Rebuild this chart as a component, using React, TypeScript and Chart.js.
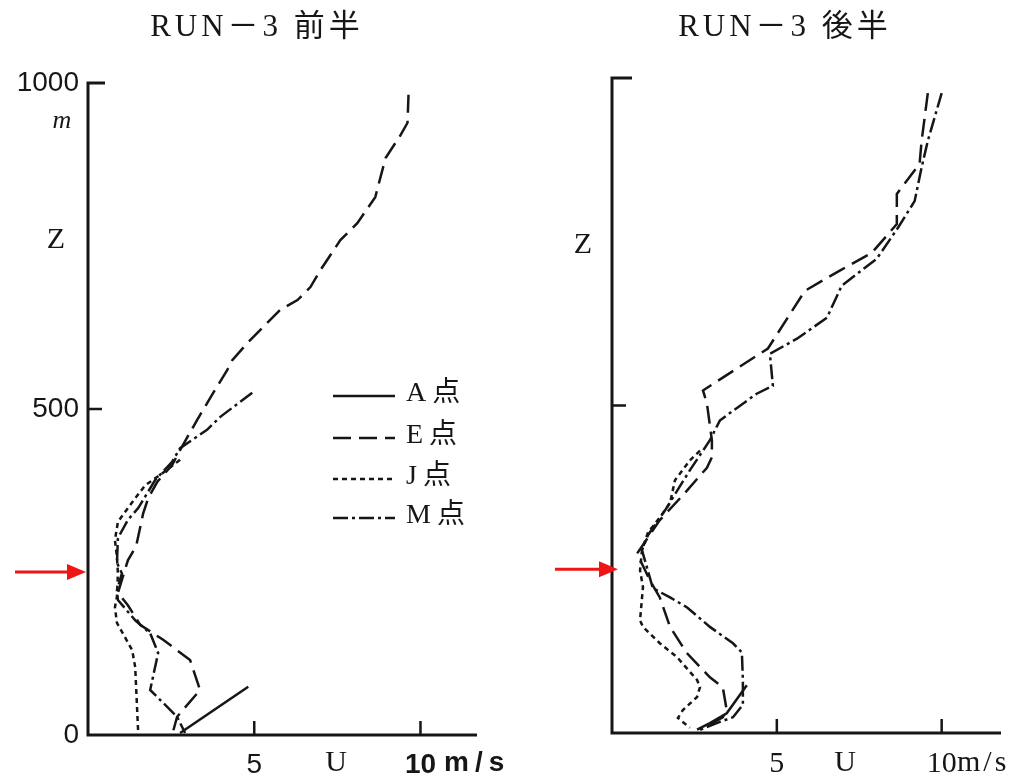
import React, { useEffect, useRef } from "react";
import { Chart, registerables } from "chart.js";

Chart.register(...registerables);

// ---------- DATA (U in m/s, Z in m) ----------
// Left panel: RUN-3 前半
const leftTitle = "RUN－3 前半";
const leftA_U = [2.77, 4.82];
const leftA_Z = [3, 74];
const leftE_U = [9.64, 9.61, 9.4, 8.95, 8.8, 8.64, 8.1, 7.59, 6.99, 6.69, 6.3, 5.78, 4.79, 4.34, 4.19, 3.77, 3.28, 2.77, 2.53, 2.08, 1.81, 1.66, 1.45, 1.2, 0.9, 1.2, 1.57, 2.26, 3.07, 3.37, 2.68, 2.53];
const leftE_Z = [982, 939, 920, 885, 856, 825, 785, 759, 713, 687, 667, 652, 601, 575, 560, 525, 483, 437, 414, 388, 363, 340, 290, 268, 218, 199, 169, 146, 115, 69, 28, 0];
const leftJ_U = [2.77, 2.2, 1.72, 1.33, 0.9, 0.81, 0.87, 0.9, 0.87, 0.81, 0.87, 1.33, 1.42, 1.51];
const leftJ_Z = [422, 400, 383, 357, 327, 299, 273, 248, 212, 196, 172, 130, 104, 3];
const leftM_U = [4.94, 3.98, 3.58, 2.77, 2.53, 2.02, 1.51, 1.2, 0.9, 0.87, 1.02, 0.87, 0.9, 1.42, 1.87, 2.11, 1.87, 2.68, 2.92];
const leftM_Z = [525, 488, 468, 440, 419, 391, 348, 330, 302, 264, 248, 222, 207, 176, 156, 126, 69, 28, 3];

// Right panel: RUN-3 後半
const rightTitle = "RUN－3 後半";
const rightA_U = [2.58, 2.97, 3.48, 4.09];
const rightA_Z = [5, 15, 30, 73];
const rightE_U = [9.58, 9.39, 9.33, 8.64, 8.64, 7.88, 6.91, 5.85, 4.73, 2.76, 2.88, 3.03, 3.03, 2.88, 2.15, 1.45, 0.76, 1.15, 1.45, 1.76, 2.27, 2.97, 3.36, 3.48, 3.36, 2.67];
const rightE_Z = [977, 903, 869, 823, 777, 733, 706, 675, 587, 523, 503, 447, 421, 405, 363, 325, 274, 233, 207, 162, 122, 85, 70, 35, 24, 5];
const rightJ_U = [2.67, 2.36, 1.91, 1.76, 1.45, 1.09, 0.91, 0.85, 0.94, 0.85, 0.94, 1.45, 1.97, 2.58, 2.67, 2.58, 2.15, 2.0, 2.36];
const rightJ_Z = [431, 416, 386, 351, 329, 306, 279, 248, 223, 172, 162, 137, 116, 81, 70, 55, 35, 23, 8];
const rightM_U = [10.0, 9.58, 9.39, 9.18, 8.67, 8.03, 6.97, 6.52, 5.61, 4.79, 4.88, 4.39, 3.67, 3.27, 2.97, 2.36, 1.61, 1.09, 0.91, 1.24, 1.76, 2.27, 2.97, 3.67, 3.94, 3.97, 3.97, 3.67, 3.27, 2.67];
const rightM_Z = [977, 904, 863, 812, 771, 724, 683, 634, 602, 579, 530, 518, 492, 477, 447, 401, 340, 302, 279, 221, 207, 192, 162, 137, 123, 81, 43, 24, 17, 5];

// Axes / labels
const seriesNames = ["A点", "E点", "J点", "M点"];
const yTickValues = [0, 500, 1000];
const xTickValues = [5, 10];
const yMax = 1000;
const arrowZ = 250;
const xUnit = "m/s";
const xName = "U";
const yName = "Z";
const yUnit = "m";

// ---------- STYLE ----------
const INK = "#161616";
const RED = "#f01414";
const dashes: number[][] = [[], [18, 8], [5, 4], [15, 4, 3, 4]];
const serif = "'Liberation Serif', 'Noto Sans CJK JP', serif";
const sans = "'Liberation Sans', 'Noto Sans CJK JP', sans-serif";

type Spec = {
  left: number;
  width: number;
  title: string;
  xMax: number;
  padTop: number;
  padRight: number;
  yAxisW: number;
  xAxisH: number;
  showY: boolean;
  legend: boolean;
  topTick: number;
  tickFont: string;
  tickFontSize: number;
  boldTen: boolean;
  unitSpacing: string;
  titleX: number;
  zPos: [number, number];
  mPos: [number, number] | null;
  uX: number;
  unitX: number;
  arrowStart: number;
  series: { u: number[]; z: number[] }[];
};

const leftSpec: Spec = {
  left: 0,
  width: 520,
  title: leftTitle,
  xMax: 11.7,
  padTop: 83,
  padRight: 43,
  yAxisW: 88,
  xAxisH: 46,
  showY: true,
  legend: true,
  topTick: 17,
  tickFont: sans,
  tickFontSize: 28,
  boldTen: true,
  unitSpacing: "6px",
  titleX: 257,
  zPos: [56, 240],
  mPos: [62, 121],
  uX: 336,
  unitX: 444,
  arrowStart: 15,
  series: [
    { u: leftA_U, z: leftA_Z },
    { u: leftE_U, z: leftE_Z },
    { u: leftJ_U, z: leftJ_Z },
    { u: leftM_U, z: leftM_Z },
  ],
};

const rightSpec: Spec = {
  left: 520,
  width: 503,
  title: rightTitle,
  xMax: 11.8,
  padTop: 78,
  padRight: 22,
  yAxisW: 92,
  xAxisH: 48,
  showY: false,
  legend: false,
  topTick: 20,
  tickFont: serif,
  tickFontSize: 30,
  boldTen: false,
  unitSpacing: "3px",
  titleX: 265,
  zPos: [63, 245],
  mPos: null,
  uX: 325,
  unitX: 437,
  arrowStart: 35,
  series: [
    { u: rightA_U, z: rightA_Z },
    { u: rightE_U, z: rightE_Z },
    { u: rightJ_U, z: rightJ_Z },
    { u: rightM_U, z: rightM_Z },
  ],
};

function makePlugin(spec: Spec) {
  return {
    id: "panelDecor",
    afterDraw(chart: any) {
      const ctx: CanvasRenderingContext2D = chart.ctx;
      const xs = chart.scales.x;
      const ys = chart.scales.y;
      const x0 = xs.getPixelForValue(0);
      const y0 = ys.getPixelForValue(0);
      const yTop = ys.getPixelForValue(yMax);
      const xEnd = xs.getPixelForValue(spec.xMax);
      ctx.save();
      // axes
      ctx.strokeStyle = INK;
      ctx.lineWidth = 3;
      ctx.lineJoin = "miter";
      ctx.beginPath();
      ctx.moveTo(x0 + spec.topTick, yTop);
      ctx.lineTo(x0, yTop);
      ctx.lineTo(x0, y0);
      ctx.lineTo(xEnd, y0);
      ctx.stroke();
      // inward ticks
      ctx.lineWidth = 2.5;
      ctx.beginPath();
      const y500 = ys.getPixelForValue(500);
      ctx.moveTo(x0, y500);
      ctx.lineTo(x0 + 14, y500);
      for (const v of xTickValues) {
        const px = xs.getPixelForValue(v);
        ctx.moveTo(px, y0);
        ctx.lineTo(px, y0 - 14);
      }
      ctx.stroke();

      ctx.fillStyle = INK;
      // title
      ctx.font = `31px ${serif}`;
      (ctx as any).letterSpacing = "4px";
      ctx.textAlign = "center";
      ctx.textBaseline = "middle";
      ctx.fillText(spec.title, spec.titleX, 28);
      (ctx as any).letterSpacing = "0px";

      // axis names
      ctx.font = `30px ${serif}`;
      ctx.fillText(yName, spec.zPos[0], spec.zPos[1]);
      if (spec.mPos) {
        ctx.font = `italic 26px ${serif}`;
        ctx.fillText(yUnit, spec.mPos[0], spec.mPos[1]);
      }
      ctx.font = `30px ${serif}`;
      ctx.fillText(xName, spec.uX, 763);
      ctx.textAlign = "left";
      ctx.font = `${spec.boldTen ? "bold" : "normal"} ${spec.tickFontSize}px ${spec.tickFont}`;
      (ctx as any).letterSpacing = spec.unitSpacing;
      ctx.fillText(xUnit, spec.unitX, 763);
      (ctx as any).letterSpacing = "0px";

      // legend
      if (spec.legend) {
        const rows = [396, 438, 479, 518];
        chart.data.datasets.forEach((ds: any, i: number) => {
          const y = rows[i];
          ctx.strokeStyle = INK;
          ctx.lineWidth = 2.4;
          ctx.setLineDash(dashes[i]);
          ctx.beginPath();
          ctx.moveTo(333, y);
          ctx.lineTo(395, y);
          ctx.stroke();
          ctx.setLineDash([]);
          ctx.font = `28px ${serif}`;
          (ctx as any).letterSpacing = "6px";
          ctx.textAlign = "left";
          ctx.fillText(ds.label, 406, y - 2);
          (ctx as any).letterSpacing = "0px";
        });
      }

      // red arrow
      const ay = ys.getPixelForValue(arrowZ);
      const tip = x0 - 2 + (spec.showY ? 0 : 8);
      ctx.strokeStyle = RED;
      ctx.fillStyle = RED;
      ctx.lineWidth = 3;
      ctx.beginPath();
      ctx.moveTo(spec.arrowStart, ay);
      ctx.lineTo(tip - 16, ay);
      ctx.stroke();
      ctx.beginPath();
      ctx.moveTo(tip, ay);
      ctx.lineTo(tip - 19, ay - 8);
      ctx.lineTo(tip - 19, ay + 8);
      ctx.closePath();
      ctx.fill();
      ctx.restore();
    },
  };
}

function Panel({ spec }: { spec: Spec }) {
  const ref = useRef<HTMLCanvasElement>(null);
  useEffect(() => {
    const canvas = ref.current;
    if (!canvas) return;
    const datasets = spec.series.map((s, i) => ({
      label: seriesNames[i],
      data: s.u.map((u, k) => ({ x: u, y: s.z[k] })),
      showLine: true,
      borderColor: INK,
      backgroundColor: INK,
      borderWidth: 2.5,
      borderDash: dashes[i],
      pointRadius: 0,
      tension: 0,
      clip: false as any,
    }));
    const chart = new Chart(canvas, {
      type: "scatter",
      data: { datasets },
      options: {
        animation: false,
        responsive: false,
        maintainAspectRatio: false,
        layout: { padding: { top: spec.padTop, right: spec.padRight, left: 0, bottom: 0 } },
        plugins: {
          legend: { display: false },
          title: { display: false },
          tooltip: { enabled: false },
        },
        scales: {
          x: {
            type: "linear",
            min: 0,
            max: spec.xMax,
            grid: { display: false, drawTicks: false },
            border: { display: false },
            afterBuildTicks: (s: any) => {
              s.ticks = xTickValues.map((v) => ({ value: v }));
            },
            afterFit: (s: any) => {
              s.height = spec.xAxisH;
            },
            ticks: {
              autoSkip: false,
              maxRotation: 0,
              padding: 13,
              color: INK,
              font: (c: any) => ({
                family: spec.tickFont,
                size: spec.tickFontSize,
                weight: spec.boldTen && c.tick && c.tick.value === 10 ? "bold" : "normal",
              }),
              callback: (v: any) => String(v),
            },
          },
          y: {
            type: "linear",
            min: 0,
            max: yMax,
            grid: { display: false, drawTicks: false },
            border: { display: false },
            afterBuildTicks: (s: any) => {
              s.ticks = yTickValues.map((v) => ({ value: v }));
            },
            afterFit: (s: any) => {
              s.width = spec.yAxisW;
            },
            ticks: {
              display: spec.showY,
              autoSkip: false,
              padding: 9,
              color: INK,
              font: { family: sans, size: 28 },
              callback: (v: any) => String(v),
            },
          },
        },
      } as any,
      plugins: [makePlugin(spec)],
    });
    return () => chart.destroy();
  }, [spec]);
  return (
    <canvas
      ref={ref}
      width={spec.width}
      height={781}
      style={{ position: "absolute", left: spec.left, top: 0, width: spec.width, height: 781 }}
    />
  );
}

export default function App() {
  return (
    <div
      style={{
        position: "absolute",
        left: 0,
        top: 0,
        width: 1023,
        height: 781,
        background: "#ffffff",
        overflow: "hidden",
      }}
    >
      <Panel spec={leftSpec} />
      <Panel spec={rightSpec} />
    </div>
  );
}
